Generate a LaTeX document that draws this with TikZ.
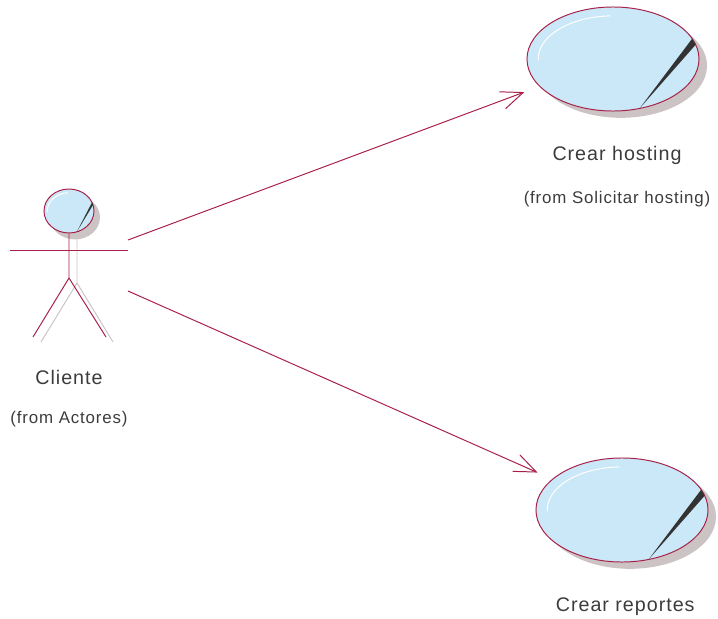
\documentclass[tikz,border=0pt]{standalone}
\usepackage{fontspec}
\setmainfont{Liberation Sans}[LetterSpace=5]
\usepackage{tikz}
\usetikzlibrary{shapes.geometric, arrows.meta, positioning, calc, shadows}
\definecolor{roseline}{RGB}{168, 32, 72}
\definecolor{rosefill}{RGB}{202, 232, 248}
\definecolor{roseshadow}{RGB}{204, 196, 196}
\definecolor{roseink}{RGB}{60, 60, 60}

% gloss on a use case: dark needle and white highlight (center, x radius, y radius)
\newcommand{\ucgloss}[3]{%
  \begin{scope}[shift={(#1)}]
    \fill[black!80] (-23:#2 and #3) -- (-16:#2 and #3) -- (72:#2 and #3) -- cycle;
    \draw[white, line width=0.7pt] (178:0.87*#2 and 0.83*#3) arc[start angle=178, end angle=268, x radius=0.87*#2, y radius=0.83*#3];
  \end{scope}}

\begin{document}
\begin{tikzpicture}[
    x=0.025cm, y=-0.025cm,
    usecase/.style={ellipse, minimum width=4.3cm, minimum height=2.6cm, inner sep=0pt, draw=roseline, fill=rosefill, line width=0.7pt,
      drop shadow={shadow xshift=0.2cm, shadow yshift=-0.17cm, fill=roseshadow, opacity=1}},
    actorhead/.style={ellipse, minimum width=1.25cm, minimum height=1.1cm, inner sep=0pt, draw=roseline, fill=rosefill, line width=0.7pt,
      drop shadow={shadow xshift=0.15cm, shadow yshift=-0.16cm, fill=roseshadow, opacity=1}},
    ucname/.style={font=\fontsize{14}{16}\selectfont, text=roseink},
    ucfrom/.style={font=\fontsize{12}{14}\selectfont, text=roseink},
    limb/.style={draw=roseline, line width=0.7pt},
    limbshadow/.style={draw=roseshadow, line width=0.7pt},
    assoc/.style={-{Straight Barb[length=0.55cm, width=0.45cm]}, draw=roseline, line width=0.7pt, shorten >=0.4cm}
]
\useasboundingbox (0,0) rectangle (718,619);

% Actor
\draw[limbshadow] (77,235) -- (77,283) -- (41,342);
\draw[limbshadow] (77,283) -- (113,342);
\node[actorhead] (clientehead) at (69,211) {};
\ucgloss{clientehead.center}{25}{22}
\draw[limb] (clientehead.south) -- (69,278) coordinate (hip) -- (33,337);
\draw[limb] (hip) -- (106,337);
\draw[limb, line width=0.8pt] (10,250.5) -- (128,250.5);
\coordinate (clienteup) at (128,240);
\coordinate (clientedown) at (128,291);
\node[ucname] (clientename) at (69,377) {Cliente};
\node[ucfrom, below=0.42cm of clientename] (clientefrom) {(from Actores)};

% Use cases
\node[usecase] (hosting) at (613,59) {};
\ucgloss{hosting.center}{86}{52}
\node[ucname, below=0.75cm of hosting, xshift=0.1cm] (hostingname) {Crear hosting};
\node[ucfrom, below=0.42cm of hostingname] (hostingfrom) {(from Solicitar hosting)};

\node[usecase] (reportes) at (622,510) {};
\ucgloss{reportes.center}{86}{52}
\node[ucname, below=0.75cm of reportes, xshift=0.08cm] (reportesname) {Crear reportes};

% Associations
\draw[assoc] (clienteup) -- (hosting);
\draw[assoc] (clientedown) -- (reportes);
\end{tikzpicture}
\end{document}
